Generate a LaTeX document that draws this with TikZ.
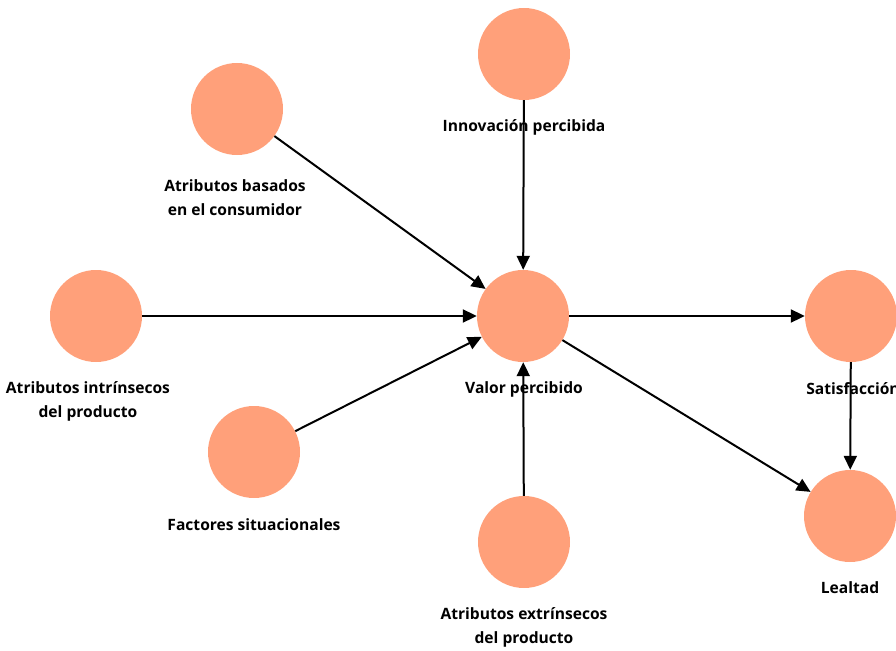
\documentclass[tikz,border=0pt]{standalone}
\usepackage{fontspec}
\setmainfont{Open Sans}
\usetikzlibrary{arrows.meta}
\definecolor{bubble}{HTML}{FFA07A}
\begin{document}
\begin{tikzpicture}[x=1pt,y=-1pt,
  factor/.style={circle, fill=bubble, minimum size=92pt, inner sep=0pt},
  caption/.style={font=\bfseries\fontsize{15.6}{24}\selectfont, align=center, text=black, inner sep=0pt},
  link/.style={line width=2pt, -{Triangle[length=14pt,width=13pt]}}]
\useasboundingbox (0,0) rectangle (896,650);

% circles
\node[factor] (inno) at (524,54) {};
\node[factor] (cons) at (237,109) {};
\node[factor] (intr) at (96,316) {};
\node[factor] (sit)  at (254,452) {};
\node[factor] (valor) at (523,316) {};
\node[factor] (extr) at (524,542) {};
\node[factor] (sat) at (851,316) {};
\node[factor] (leal) at (850,516) {};

% captions
\node[caption] (inno-t) at (524,127) {Innovación percibida};
\node[caption] (cons-t) at (235,198) {Atributos basados\\en el consumidor};
\node[caption] (intr-t) at (88,401) {Atributos intrínsecos\\del producto};
\node[caption] (sit-t)  at (254,525) {Factores situacionales};
\node[caption] (valor-t) at (524,389) {Valor percibido};
\node[caption] (extr-t) at (524,627) {Atributos extrínsecos\\del producto};
\node[caption] (sat-t) at (853,389) {Satisfacción};
\node[caption] (leal-t) at (850,588) {Lealtad};

% connections
\draw[link] (inno) -- (valor);
\draw[link] (cons) -- (valor);
\draw[link] (intr) -- (valor);
\draw[link] (sit) -- (valor);
\draw[link] (extr) -- (valor);
\draw[link] (valor) -- (sat);
\draw[link] (valor) -- (leal);
\draw[link] (sat) -- (leal);
\end{tikzpicture}
\end{document}
